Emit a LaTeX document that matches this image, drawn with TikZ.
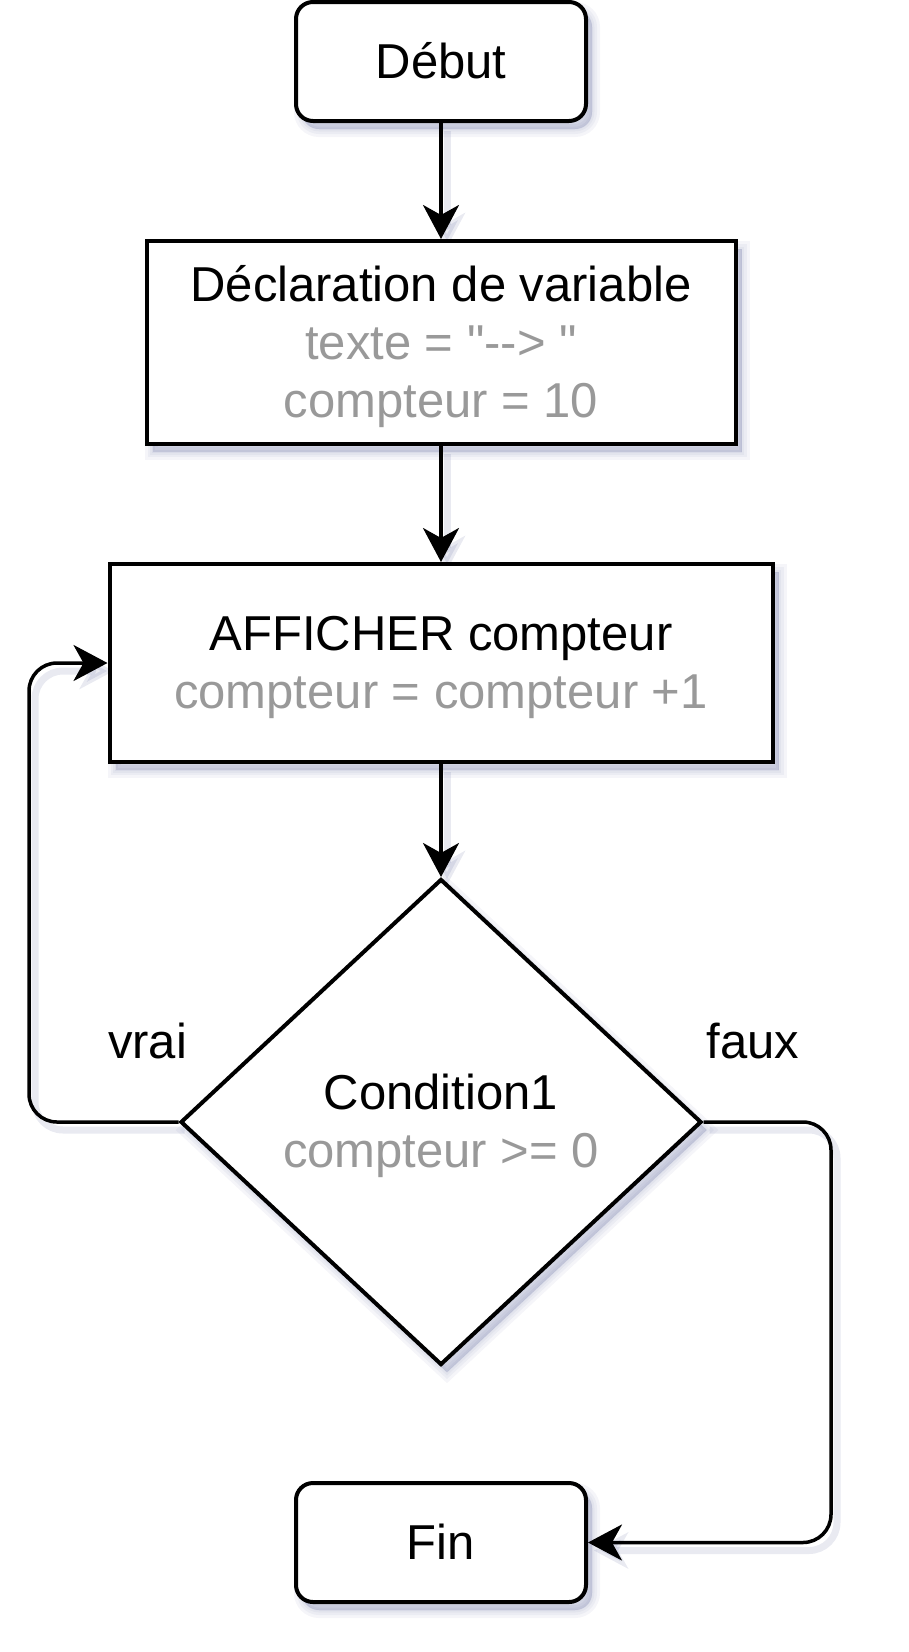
\documentclass[tikz,border=0pt]{standalone}
\usepackage{fontspec}
\setmainfont{Liberation Sans}[Ligatures=TeXOff]
\usetikzlibrary{arrows.meta,shapes.geometric,backgrounds}
\definecolor{txtgray}{RGB}{153,153,153}
\definecolor{shc}{RGB}{70,80,140}
\newcommand\lnstrut{\rule[-12.5pt]{0pt}{58pt}}
\begin{document}
\begin{tikzpicture}[x=1pt,y=-1pt,
  every node/.style={font=\fontsize{49}{58}\selectfont},
  shlayer/.style={preaction={draw=shc, fill=shc, line width=#1, opacity=0.055,
      transform canvas={shift={(6pt,-8pt)}}}},
  softshadow/.style={shlayer=16pt, shlayer=10pt, shlayer=5pt, shlayer=1pt},
  box/.style={softshadow, draw=black, line width=4pt, fill=white, inner sep=0pt, align=center},
  term/.style={box, rounded corners=17pt, minimum width=290pt, minimum height=119pt},
  proc/.style={box},
  dec/.style={box, diamond, minimum width=521pt, minimum height=486pt},
  tipstyle/.style={-{Stealth[length=34pt,width=36pt,inset=10pt]}},
  flow/.style={tipstyle, line width=3.5pt, rounded corners=28pt},
  flowshadow/.style={tipstyle, line width=7pt, rounded corners=28pt, draw=shc,
    opacity=0.12, transform canvas={shift={(6pt,-8pt)}}},
  lbl/.style={inner sep=0pt}
]
\useasboundingbox (0,0) rectangle (908,1652);

\node[term] (debut) at (441,61.5) {\lnstrut Début};
\node[proc, minimum width=589pt, minimum height=203pt] (decl) at (441,342.5)
  {\lnstrut Déclaration de variable\\
   \textcolor{txtgray}{\lnstrut texte = "-->\ "}\\
   \textcolor{txtgray}{\lnstrut compteur = 10}};
\node[proc, minimum width=663pt, minimum height=198pt] (aff) at (441,663)
  {\lnstrut AFFICHER compteur\\
   \textcolor{txtgray}{\lnstrut compteur = compteur +1}};
\node[dec] (cond) at (441,1122)
  {\lnstrut Condition1\\
   \textcolor{txtgray}{\lnstrut compteur >= 0}};
\node[term] (fin) at (441,1542.5) {\lnstrut Fin};

\node[lbl] (vrai) at (147.5,1041.5) {\lnstrut vrai};
\node[lbl] (faux) at (753,1041.5) {\lnstrut faux};

\coordinate (lx) at (29,663);
\coordinate (rx) at (831,1542.5);

\begin{scope}[on background layer]
  \draw[flowshadow] (debut) -- (decl);
  \draw[flowshadow] (decl) -- (aff);
  \draw[flowshadow] (aff) -- (cond);
  \draw[flowshadow] (cond.west) -| (lx) -- (aff.west);
  \draw[flowshadow] (cond.east) -| (rx) -- (fin.east);
\end{scope}

\draw[flow] (debut) -- (decl);
\draw[flow] (decl) -- (aff);
\draw[flow] (aff) -- (cond);
\draw[flow] (cond.west) -| (lx) -- (aff.west);
\draw[flow] (cond.east) -| (rx) -- (fin.east);
\end{tikzpicture}
\end{document}
